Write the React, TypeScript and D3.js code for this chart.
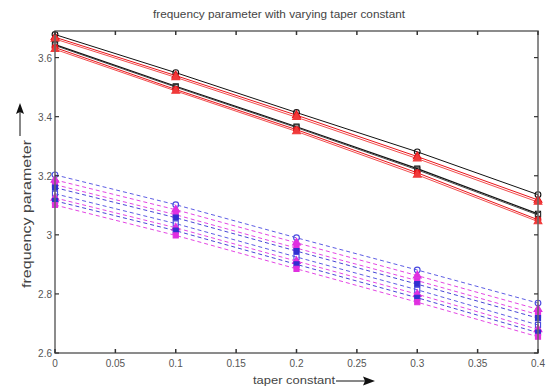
import React from "react";
import * as d3 from "d3";

const W = 555;
const H = 390;

const taper = [0, 0.1, 0.2, 0.3, 0.4];
const xTicks = [0, 0.05, 0.1, 0.15, 0.2, 0.25, 0.3, 0.35, 0.4];
const xTickLabels = ["0", "0.05", "0.1", "0.15", "0.2", "0.25", "0.3", "0.35", "0.4"];
const yTicks = [2.6, 2.8, 3.0, 3.2, 3.4, 3.6];
const yTickLabels = ["2.6", "2.8", "3", "3.2", "3.4", "3.6"];

// solid curves (upper family)
const k1 = [3.678, 3.549, 3.414, 3.281, 3.136];
const r1 = [3.669, 3.539, 3.405, 3.265, 3.118];
const r2 = [3.663, 3.533, 3.398, 3.258, 3.111];
const k2 = [3.644, 3.503, 3.366, 3.224, 3.071];
const k3 = [3.641, 3.500, 3.363, 3.220, 3.067];
const r3 = [3.634, 3.492, 3.356, 3.210, 3.051];
const r4 = [3.628, 3.487, 3.350, 3.203, 3.045];

// dashed curves (lower family)
const b1 = [3.203, 3.102, 2.990, 2.881, 2.769];
const m1 = [3.186, 3.085, 2.973, 2.862, 2.748];
const m2 = [3.170, 3.068, 2.955, 2.845, 2.730];
const b2 = [3.160, 3.058, 2.945, 2.833, 2.718];
const b3 = [3.139, 3.038, 2.925, 2.814, 2.695];
const m3 = [3.125, 3.024, 2.911, 2.799, 2.680];
const b4 = [3.115, 3.014, 2.900, 2.787, 2.669];
const m4 = [3.101, 2.998, 2.885, 2.772, 2.655];

type Series = {
  values: number[];
  color: string;
  dashed: boolean;
  symbol: d3.SymbolType;
  filled: boolean;
  width: number;
};

const series: Series[] = [
  { values: k1, color: "#111", dashed: false, symbol: d3.symbolCircle, filled: false, width: 1 },
  { values: r1, color: "#e8141a", dashed: false, symbol: d3.symbolTriangle, filled: true, width: 1 },
  { values: r2, color: "#f03a3a", dashed: false, symbol: d3.symbolTriangle, filled: true, width: 0.9 },
  { values: k2, color: "#111", dashed: false, symbol: d3.symbolSquare, filled: false, width: 1.2 },
  { values: k3, color: "#333", dashed: false, symbol: d3.symbolSquare, filled: false, width: 0.9 },
  { values: r3, color: "#e8141a", dashed: false, symbol: d3.symbolCircle, filled: true, width: 1 },
  { values: r4, color: "#f03a3a", dashed: false, symbol: d3.symbolTriangle, filled: true, width: 0.9 },
  { values: b1, color: "#4a4ae0", dashed: true, symbol: d3.symbolCircle, filled: false, width: 0.9 },
  { values: m1, color: "#e030e0", dashed: true, symbol: d3.symbolTriangle, filled: true, width: 0.9 },
  { values: m2, color: "#e030e0", dashed: true, symbol: d3.symbolSquare, filled: true, width: 0.9 },
  { values: b2, color: "#3030d0", dashed: true, symbol: d3.symbolSquare, filled: true, width: 0.9 },
  { values: b3, color: "#4a4ae0", dashed: true, symbol: d3.symbolSquare, filled: false, width: 0.9 },
  { values: m3, color: "#e030e0", dashed: true, symbol: d3.symbolTriangle, filled: true, width: 0.9 },
  { values: b4, color: "#3030d0", dashed: true, symbol: d3.symbolSquare, filled: true, width: 0.9 },
  { values: m4, color: "#e030e0", dashed: true, symbol: d3.symbolSquare, filled: true, width: 0.9 },
];

const left = 55;
const right = 538;
const top = 31;
const bottom = 353;

export default function App() {
  const x = d3.scaleLinear().domain([0, 0.4]).range([left, right]);
  const y = d3.scaleLinear().domain([2.6, 3.69]).range([bottom, top]);
  const line = d3
    .line<number>()
    .x((_, i) => x(taper[i]))
    .y((v) => y(v));

  const axisColor = "#666";
  const labelColor = "#555";
  const font = "'Liberation Sans', Arial, sans-serif";

  return (
    <svg
      width={W}
      height={H}
      style={{ position: "fixed", left: 0, top: 0, background: "#fff" }}
      fontFamily={font}
    >
      <rect x={0} y={0} width={W} height={H} fill="#fff" />
      <text
        x={279}
        y={18}
        textAnchor="middle"
        fontSize={10}
        fill="#444"
        textLength={252}
        lengthAdjust="spacingAndGlyphs"
      >
        frequency parameter with varying taper constant
      </text>

      {/* curves */}
      <g>
        {series.map((s, i) => (
          <path
            key={"l" + i}
            d={line(s.values) ?? ""}
            fill="none"
            stroke={s.color}
            strokeWidth={s.width}
            strokeDasharray={s.dashed ? "4,3" : undefined}
          />
        ))}
        {series.map((s, i) =>
          s.values.map((v, j) => (
            <path
              key={"m" + i + "-" + j}
              transform={`translate(${x(taper[j])},${y(v)})`}
              d={d3.symbol(s.symbol, 26)() ?? ""}
              fill={s.filled ? s.color : "none"}
              stroke={s.color}
              strokeWidth={1.1}
            />
          ))
        )}
      </g>

      {/* axes box */}
      <rect
        x={left}
        y={top}
        width={right - left}
        height={bottom - top}
        fill="none"
        stroke={axisColor}
        strokeWidth={1.5}
      />
      {xTicks.map((t, i) => (
        <g key={"xt" + i}>
          <line x1={x(t)} x2={x(t)} y1={bottom} y2={bottom - 4} stroke="#333" strokeWidth={1.5} />
          <line x1={x(t)} x2={x(t)} y1={top} y2={top + 4} stroke="#333" strokeWidth={1.5} />
          <text x={x(t)} y={bottom + 14} textAnchor="middle" fontSize={10} fill={labelColor}>
            {xTickLabels[i]}
          </text>
        </g>
      ))}
      {yTicks.map((t, i) => (
        <g key={"yt" + i}>
          <line x1={left} x2={left + 4} y1={y(t)} y2={y(t)} stroke="#333" strokeWidth={1.2} />
          <line x1={right} x2={right - 4} y1={y(t)} y2={y(t)} stroke="#333" strokeWidth={1.2} />
          <text x={left - 3} y={y(t) + 4} textAnchor="end" fontSize={10} fill={labelColor}>
            {yTickLabels[i]}
          </text>
        </g>
      ))}

      {/* x axis label with arrow */}
      <text
        x={253}
        y={384}
        fontSize={10}
        fill="#444"
        textLength={82}
        lengthAdjust="spacingAndGlyphs"
      >
        taper constant
      </text>
      <line x1={336} x2={365} y1={381} y2={381} stroke="#111" strokeWidth={1} />
      <path d="M375,381 L363,376.5 L365,381 L363,385.5 Z" fill="#111" />

      {/* y axis label with arrow */}
      <text
        transform="translate(31,214) rotate(-90)"
        textAnchor="middle"
        fontSize={13}
        fill="#444"
        textLength={148}
        lengthAdjust="spacingAndGlyphs"
      >
        frequency parameter
      </text>
      <line x1={20} x2={20} y1={136} y2={112} stroke="#111" strokeWidth={1} />
      <path d="M20,103 L16,114 L20,112 L24,114 Z" fill="#111" />
    </svg>
  );
}
